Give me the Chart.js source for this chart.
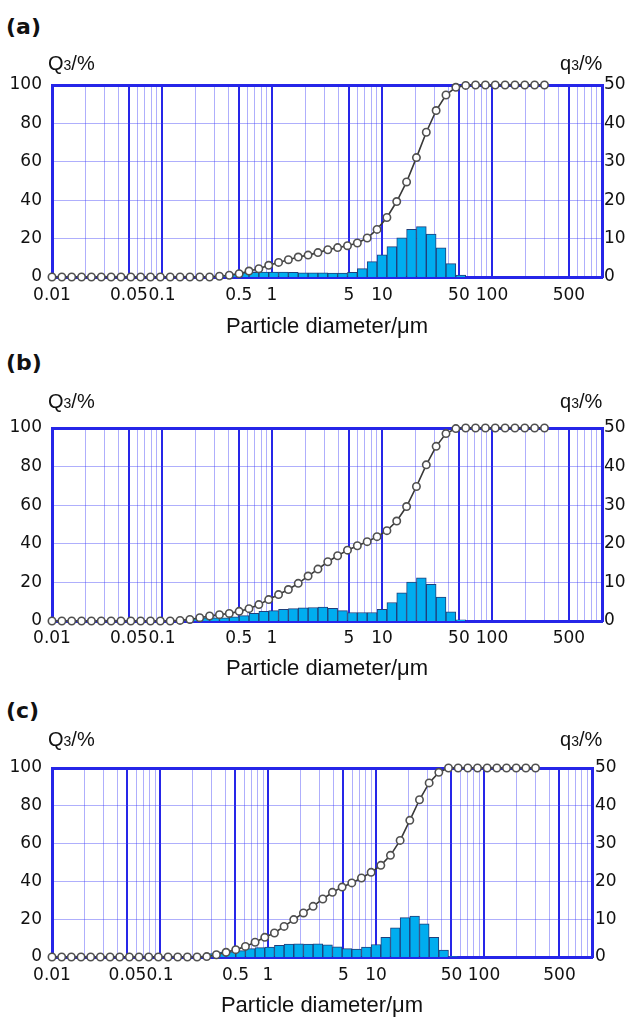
<!DOCTYPE html>
<html>
<head>
<meta charset="utf-8">
<script src="https://cdn.jsdelivr.net/npm/chart.js@4.4.1/dist/chart.umd.min.js"></script>
<style>
  body { margin: 0; background: #fff; }
  #page { position: relative; width: 627px; height: 1018px; overflow: hidden; background: #fff; }
  canvas { position: absolute; left: 0; }
  .tag { position: absolute; left: 6px; font: bold 22px/26px "DejaVu Sans"; color: #111; }
  .unit { position: absolute; font: 20px/24px "Liberation Sans"; color: #111; white-space: nowrap; }
  .unit span { font-size: 14px; }
</style>
</head>
<body>
<div id="page">
  <canvas id="chartA" width="627" height="292" style="top:55px"></canvas>
  <canvas id="chartB" width="627" height="293" style="top:398px"></canvas>
  <canvas id="chartC" width="627" height="289" style="top:738px"></canvas>

  <div class="tag" style="top:14px">(a)</div>
  <div class="unit" style="left:48px; top:51px">Q<span>3</span>/%</div>
  <div class="unit" style="left:560px; top:51px">q<span>3</span>/%</div>

  <div class="tag" style="top:350px">(b)</div>
  <div class="unit" style="left:48px; top:389px">Q<span>3</span>/%</div>
  <div class="unit" style="left:560px; top:389px">q<span>3</span>/%</div>

  <div class="tag" style="top:698px">(c)</div>
  <div class="unit" style="left:48px; top:727px">Q<span>3</span>/%</div>
  <div class="unit" style="left:560px; top:727px">q<span>3</span>/%</div>
</div>

<script>
// channel edges (um), 51 points from 0.01 to 300
var diameters = [0.01, 0.01229, 0.01510, 0.01856, 0.02281, 0.02804, 0.03446, 0.04235, 0.05204, 0.06396,
    0.07860, 0.09660, 0.1187, 0.1459, 0.1793, 0.2204, 0.2708, 0.3328, 0.4090, 0.5027,
    0.6178, 0.7593, 0.9331, 1.147, 1.409, 1.732, 2.129, 2.616, 3.215, 3.951,
    4.856, 5.968, 7.334, 9.014, 11.08, 13.61, 16.73, 20.56, 25.27, 31.06,
    38.17, 46.91, 57.65, 70.85, 87.07, 107.0, 131.5, 161.6, 198.6, 244.1, 300.0];

// channel centres (um), one per bar
var binCenters = [0.01109, 0.01362, 0.01674, 0.02058, 0.02529, 0.03108, 0.03820, 0.04694, 0.05769, 0.07090,
    0.08714, 0.1071, 0.1316, 0.1617, 0.1988, 0.2443, 0.3002, 0.3690, 0.4535, 0.5573,
    0.6849, 0.8417, 1.0345, 1.271, 1.562, 1.920, 2.360, 2.900, 3.564, 4.380,
    5.383, 6.616, 8.131, 9.993, 12.28, 15.09, 18.55, 22.80, 28.02, 34.43,
    42.31, 52.00, 63.91, 78.54, 96.53, 118.6, 145.8, 179.2, 220.2, 270.6];

// x axis ticks
var majorTicks = [0.01, 0.05, 0.1, 0.5, 1, 5, 10, 50, 100, 500, 1000];
var majorLabels = ['0.01', '0.05', '0.1', '0.5', '1', '5', '10', '50', '100', '500', ''];
var minorTicks = [0.02, 0.03, 0.04, 0.06, 0.07, 0.08, 0.09,
    0.2, 0.3, 0.4, 0.6, 0.7, 0.8, 0.9,
    2, 3, 4, 6, 7, 8, 9,
    20, 30, 40, 60, 70, 80, 90,
    200, 300, 400, 600, 700, 800, 900];

// (a) cumulative Q3 and frequency q3
var cumA = [0, 0, 0, 0, 0, 0, 0, 0, 0, 0, 0, 0, 0, 0, 0, 0, 0,
    0.4, 0.9, 1.7, 3.1, 4.3, 6.1, 7.6, 9.0, 10.4, 11.4, 12.7, 14.2, 15.3, 16.3, 17.7,
    20.3, 24.8, 31.0, 39.3, 49.5, 62.2, 75.4, 86.7, 94.8, 98.8, 99.8,
    100, 100, 100, 100, 100, 100, 100, 100];
var freqA = [0, 0, 0, 0, 0, 0, 0, 0, 0, 0, 0, 0, 0, 0, 0, 0,
    0.3, 0.5, 0.8, 1.1, 1.2, 1.3, 1.3, 1.3, 1.2, 1.1, 1.1, 1.1, 1.0, 1.0, 1.2,
    2.2, 4.0, 5.8, 7.9, 10.2, 12.4, 13.1, 11.2, 7.6, 3.5, 0.5,
    0, 0, 0, 0, 0, 0, 0, 0];

// (b)
var cumB = [0, 0, 0, 0, 0, 0, 0, 0, 0, 0, 0, 0, 0,
    0.3, 0.8, 1.7, 2.6, 3.3, 3.9, 5.0, 6.4, 8.5, 11.1, 13.7, 16.3, 19.5, 23.3, 26.9,
    30.7, 33.8, 36.7, 39.0, 41.1, 43.7, 46.8, 51.8, 59.3, 69.7, 80.9, 90.5, 97.1, 99.7,
    100, 100, 100, 100, 100, 100, 100, 100, 100];
var freqB = [0, 0, 0, 0, 0, 0, 0, 0, 0, 0, 0, 0, 0,
    0.3, 0.7, 0.8, 0.8, 0.8, 1.1, 1.4, 2.0, 2.5, 2.7, 3.0, 3.2, 3.4, 3.5, 3.6,
    3.3, 2.7, 2.2, 2.2, 2.2, 3.0, 4.8, 7.3, 10.1, 11.2, 9.5, 6.2, 2.4, 0.3,
    0, 0, 0, 0, 0, 0, 0, 0];

// (c)
var cumC = [0, 0, 0, 0, 0, 0, 0, 0, 0, 0, 0, 0, 0, 0, 0, 0, 0.2,
    1.2, 2.5, 3.9, 5.6, 7.8, 10.4, 12.7, 16.2, 19.8, 23.3, 26.8, 30.7, 34.2, 37.0,
    39.2, 41.8, 44.8, 48.5, 53.8, 61.7, 72.3, 83.2, 92.1, 97.7,
    100, 100, 100, 100, 100, 100, 100, 100, 100, 100];
var freqC = [0, 0, 0, 0, 0, 0, 0, 0, 0, 0, 0, 0, 0, 0, 0, 0,
    0.9, 1.3, 1.4, 1.7, 2.2, 2.5, 2.6, 3.1, 3.4, 3.5, 3.4, 3.5, 3.2, 2.7, 2.2,
    2.1, 2.6, 3.3, 5.2, 7.7, 10.4, 10.8, 8.8, 5.2, 1.8, 0.1,
    0, 0, 0, 0, 0, 0, 0, 0];

var majorColor = 'rgb(38, 38, 232)';
var minorColor = 'rgba(55, 55, 248, 0.4)';
var tickFont = {family: 'DejaVu Sans', size: 17};
var textColor = '#111';

function yGridColor(ctx){
    if (ctx.tick && ctx.tick.value % 50 === 0) return majorColor;
    return minorColor;
}

function yGridWidth(ctx){
    if (!ctx.tick) return 1;
    if (ctx.tick.value === 50) return 2;
    if (ctx.tick.value % 50 === 0) return 3;
    return 1;
}

function makeChart(canvasId, cumValues, freqValues, opts){
    var cumPoints = [];
    for (var i = 0; i < diameters.length; i++){
        cumPoints.push({x: diameters[i], y: cumValues[i]});
    }
    var barPoints = [];
    for (var i = 0; i < binCenters.length; i++){
        barPoints.push({x: binCenters[i], y: freqValues[i]});
    }

    var ctx = document.getElementById(canvasId).getContext('2d');
    return new Chart(ctx, {
        type: 'bar',
        data: {
            datasets: [
                {
                    type: 'line',
                    data: cumPoints,
                    xAxisID: 'x',
                    yAxisID: 'y',
                    order: 0,
                    borderColor: '#383838',
                    borderWidth: 1.6,
                    pointRadius: 3.7,
                    pointBorderWidth: 1.6,
                    pointBackgroundColor: '#ffffff',
                    pointBorderColor: '#505050',
                    tension: 0,
                    fill: false,
                    clip: false
                },
                {
                    type: 'bar',
                    data: barPoints,
                    xAxisID: 'x',
                    yAxisID: 'y2',
                    order: 1,
                    backgroundColor: '#00adef',
                    borderColor: '#1f3f7a',
                    borderWidth: 1,
                    barPercentage: 1,
                    categoryPercentage: 1
                }
            ]
        },
        options: {
            responsive: false,
            animation: false,
            events: [],
            layout: {padding: {top: 30, left: 0, right: 0, bottom: 0}},
            plugins: {
                legend: {display: false},
                tooltip: {enabled: false}
            },
            scales: {
                // light lines at 2,3,4,6,7,8,9 of each decade
                xMinor: {
                    type: 'logarithmic',
                    position: 'bottom',
                    min: 0.01,
                    max: 1000,
                    offset: false,
                    afterBuildTicks: function(axis){
                        axis.ticks = minorTicks.map(v => ({value: v}));
                    },
                    afterFit: function(axis){ axis.height = 0; },
                    ticks: {display: false},
                    grid: {color: minorColor, lineWidth: 1, drawTicks: false, offset: false},
                    border: {display: false}
                },
                x: {
                    type: 'logarithmic',
                    position: 'bottom',
                    min: 0.01,
                    max: 1000,
                    offset: false,
                    afterBuildTicks: function(axis){
                        axis.ticks = majorTicks.map(v => ({value: v}));
                    },
                    afterFit: function(axis){ axis.height = 70; },
                    ticks: {
                        autoSkip: false,
                        maxRotation: 0,
                        minRotation: 0,
                        padding: opts.tickPad,
                        font: tickFont,
                        color: textColor,
                        callback: function(value, index){ return majorLabels[index]; }
                    },
                    grid: {color: majorColor, lineWidth: 2, drawTicks: false, offset: false},
                    border: {color: majorColor, width: 3},
                    title: {
                        display: true,
                        text: 'Particle diameter/μm',
                        font: {family: 'Liberation Sans', size: 22},
                        color: textColor,
                        padding: {top: 0, bottom: opts.titlePad}
                    }
                },
                y: {
                    position: 'left',
                    min: 0,
                    max: 100,
                    afterFit: function(axis){ axis.width = 52; },
                    ticks: {
                        stepSize: 10,
                        padding: 10,
                        font: tickFont,
                        color: textColor,
                        callback: function(value){ return value % 20 === 0 ? value : ''; }
                    },
                    grid: {drawTicks: false, color: yGridColor, lineWidth: yGridWidth},
                    border: {color: majorColor, width: 3}
                },
                y2: {
                    position: 'right',
                    min: 0,
                    max: 50,
                    afterFit: function(axis){ axis.width = opts.rightWidth; },
                    ticks: {stepSize: 10, padding: opts.rightPad, font: tickFont, color: textColor},
                    grid: {display: false, drawTicks: false},
                    border: {color: majorColor, width: 3}
                }
            }
        }
    });
}

var chartA = makeChart('chartA', cumA, freqA, {rightWidth: 25, rightPad: 2, tickPad: 8, titlePad: 6.4});
var chartB = makeChart('chartB', cumB, freqB, {rightWidth: 25, rightPad: 2, tickPad: 7, titlePad: 8.4});
var chartC = makeChart('chartC', cumC, freqC, {rightWidth: 35, rightPad: 3, tickPad: 8, titlePad: 7.4});
</script>
</body>
</html>
